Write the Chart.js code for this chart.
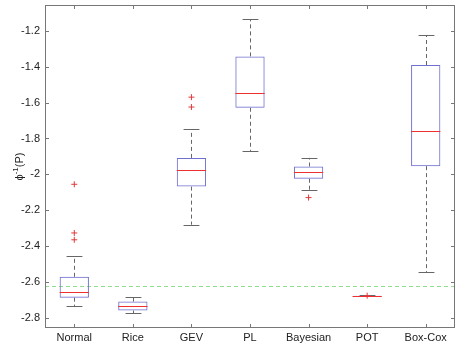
<!DOCTYPE html>
<html>
<head>
<meta charset="utf-8">
<script src="https://cdn.jsdelivr.net/npm/chart.js@4"></script>
<style>
html, body { margin: 0; padding: 0; background: #fff; }
#wrap { width: 460px; height: 347px; }
</style>
</head>
<body>
<div id="wrap"><canvas id="myChart"></canvas></div>
<script>
// datos
var categorias = ["Normal", "Rice", "GEV", "PL", "Bayesian", "POT", "Box-Cox"];
var bigoteMin = [-2.734, -2.774, -2.280, -1.869, -2.087, -2.678, -2.545];
var q1        = [-2.686, -2.758, -2.068, -1.629, -2.024, -2.676, -1.954];
var mediana   = [-2.655, -2.732, -1.974, -1.548, -1.985, -2.675, -1.759];
var q3        = [-2.570, -2.708, -1.908, -1.343, -1.956, -2.674, -1.391];
var bigoteMax = [-2.454, -2.680, -1.748, -1.135, -1.908, -2.672, -1.226];
var atipicos  = [[-2.055, -2.326, -2.364], [], [-1.570, -1.625], [], [-2.129], [-2.675], []];
var lineaRef = -2.623;
var ticksY = [-2.8, -2.6, -2.4, -2.2, -2, -1.8, -1.6, -1.4, -1.2];
var yMin = -2.855;
var yMax = -1.057;

window.onload = main;

function main() {
    dibujarGrafico();
}

function dibujarGrafico() {
    var cajas = q1.map(function (v, i) { return [v, q3[i]]; });
    var puntos = [];
    for (let i in atipicos) {
        for (let j in atipicos[i]) {
            puntos.push({ x: categorias[i], y: atipicos[i][j] });
        }
    }

    var pluginCajas = {
        id: 'cajas',
        beforeDatasetsDraw: function (chart) {
            var ctx = chart.ctx;
            var x = chart.scales.x;
            var y = chart.scales.y;
            var area = chart.chartArea;
            var paso = x.getPixelForValue(1) - x.getPixelForValue(0);

            ctx.save();
            // linea de referencia
            ctx.strokeStyle = '#8ede8e';
            ctx.lineWidth = 1;
            ctx.setLineDash([4, 3]);
            ctx.beginPath();
            ctx.moveTo(area.left, Math.round(y.getPixelForValue(lineaRef)) + 0.5);
            ctx.lineTo(area.right, Math.round(y.getPixelForValue(lineaRef)) + 0.5);
            ctx.stroke();

            // bigotes
            ctx.strokeStyle = '#666';
            for (let i = 0; i < categorias.length; i++) {
                var cx = Math.round(x.getPixelForValue(i)) + 0.5;
                ctx.setLineDash([4, 3]);
                ctx.beginPath();
                ctx.moveTo(cx, y.getPixelForValue(q3[i]));
                ctx.lineTo(cx, y.getPixelForValue(bigoteMax[i]));
                ctx.moveTo(cx, y.getPixelForValue(q1[i]));
                ctx.lineTo(cx, y.getPixelForValue(bigoteMin[i]));
                ctx.stroke();
                ctx.setLineDash([]);
                var w = paso * 0.135;
                ctx.beginPath();
                var ya = Math.round(y.getPixelForValue(bigoteMax[i])) + 0.5;
                var yb = Math.round(y.getPixelForValue(bigoteMin[i])) + 0.5;
                ctx.moveTo(cx - w, ya);
                ctx.lineTo(cx + w, ya);
                ctx.moveTo(cx - w, yb);
                ctx.lineTo(cx + w, yb);
                ctx.stroke();
            }
            ctx.restore();
        },
        afterDatasetsDraw: function (chart) {
            var ctx = chart.ctx;
            var x = chart.scales.x;
            var y = chart.scales.y;
            var area = chart.chartArea;
            var paso = x.getPixelForValue(1) - x.getPixelForValue(0);

            ctx.save();
            // medianas
            ctx.strokeStyle = '#ee3030';
            ctx.lineWidth = 1;
            for (let i = 0; i < categorias.length; i++) {
                var cx = x.getPixelForValue(i);
                var ym = Math.round(y.getPixelForValue(mediana[i])) + 0.5;
                ctx.beginPath();
                ctx.moveTo(cx - paso * 0.25, ym);
                ctx.lineTo(cx + paso * 0.25, ym);
                ctx.stroke();
            }

            // marco y marcas
            ctx.strokeStyle = '#777';
            ctx.strokeRect(area.left + 0.5, area.top + 0.5, area.right - area.left - 1, area.bottom - area.top - 1);
            ctx.beginPath();
            for (let i = 0; i < categorias.length; i++) {
                var tx = Math.round(x.getPixelForValue(i)) + 0.5;
                ctx.moveTo(tx, area.top);
                ctx.lineTo(tx, area.top + 4);
                ctx.moveTo(tx, area.bottom);
                ctx.lineTo(tx, area.bottom - 4);
            }
            for (let i = 0; i < ticksY.length; i++) {
                var ty = Math.round(y.getPixelForValue(ticksY[i])) + 0.5;
                ctx.moveTo(area.left, ty);
                ctx.lineTo(area.left + 4, ty);
                ctx.moveTo(area.right, ty);
                ctx.lineTo(area.right - 4, ty);
            }
            ctx.stroke();

            // titulo eje y
            ctx.translate(19, (area.top + area.bottom) / 2);
            ctx.rotate(-Math.PI / 2);
            ctx.fillStyle = '#222';
            ctx.textBaseline = 'alphabetic';
            var a = 'ϕ', b = '(P)';
            ctx.font = '11px "Liberation Sans", Arial, sans-serif';
            var wa = ctx.measureText(a).width;
            var wb = ctx.measureText(b).width;
            ctx.font = '8px "Liberation Sans", Arial, sans-serif';
            var ws = ctx.measureText('-1').width;
            var x0 = -(wa + ws + wb) / 2;
            ctx.font = '11px "Liberation Sans", Arial, sans-serif';
            ctx.fillText(a, x0, 4);
            ctx.font = '8px "Liberation Sans", Arial, sans-serif';
            ctx.fillText('-1', x0 + wa, -1);
            ctx.font = '11px "Liberation Sans", Arial, sans-serif';
            ctx.fillText(b, x0 + wa + ws, 4);
            ctx.restore();
        }
    };

    const ctx = document.getElementById('myChart').getContext('2d');
    const myChart = new Chart(ctx, {
        type: 'bar',
        data: {
            labels: categorias,
            datasets: [{
                type: 'bar',
                data: cajas,
                backgroundColor: 'rgba(0,0,0,0)',
                borderColor: '#6f6fd0',
                borderWidth: 1,
                borderSkipped: false,
                barPercentage: 0.5,
                categoryPercentage: 1
            }, {
                type: 'scatter',
                data: puntos,
                pointStyle: 'cross',
                pointRadius: 3,
                pointBorderWidth: 1,
                borderColor: '#e03a3a',
                backgroundColor: '#e03a3a'
            }]
        },
        options: {
            responsive: true,
            maintainAspectRatio: false,
            animation: false,
            layout: { padding: { top: 2, right: 2, left: 0, bottom: 0 } },
            plugins: {
                legend: { display: false },
                tooltip: { enabled: false }
            },
            scales: {
                x: {
                    type: 'category',
                    offset: true,
                    grid: { display: false, drawTicks: false },
                    border: { display: false },
                    ticks: {
                        padding: 3,
                        color: '#222',
                        font: { family: '"Liberation Sans", Arial, sans-serif', size: 11 }
                    },
                    afterFit: function (scale) {
                        scale.height = 19;
                        scale.paddingLeft = 0;
                        scale.paddingRight = 0;
                    }
                },
                y: {
                    min: yMin,
                    max: yMax,
                    grid: { display: false, drawTicks: false },
                    border: { display: false },
                    afterBuildTicks: function (scale) {
                        scale.ticks = ticksY.map(function (v) { return { value: v }; });
                    },
                    ticks: {
                        padding: 5,
                        color: '#222',
                        font: { family: '"Liberation Sans", Arial, sans-serif', size: 11 },
                        callback: function (v) { return String(Number(v.toFixed(1))); }
                    },
                    afterFit: function (scale) {
                        scale.width = 45;
                        scale.paddingTop = 0;
                        scale.paddingBottom = 0;
                    }
                }
            }
        },
        plugins: [pluginCajas]
    });
}
</script>
</body>
</html>
